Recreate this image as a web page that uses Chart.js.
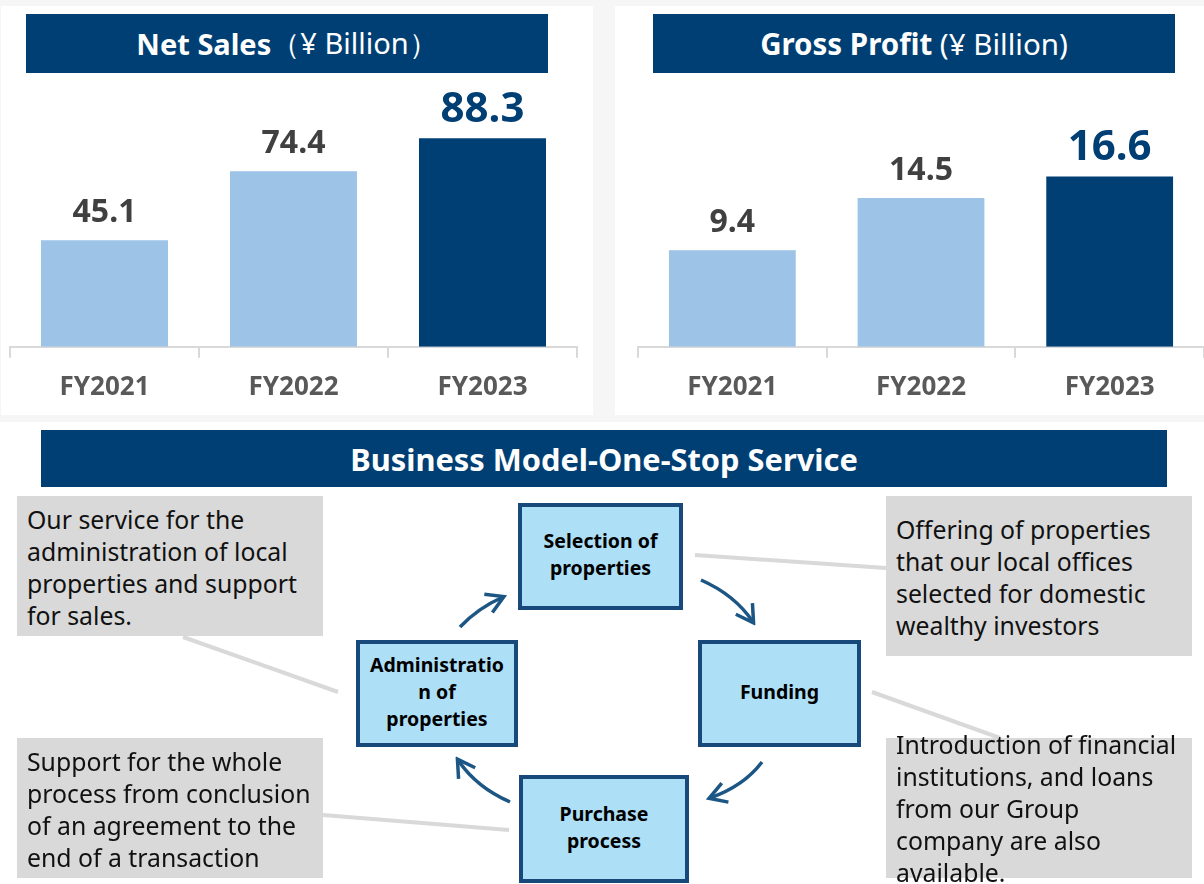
<!DOCTYPE html>
<html>
<head>
<meta charset="utf-8">
<script src="https://cdn.jsdelivr.net/npm/chart.js@4"></script>
<style>
  body { margin: 0; width: 1204px; height: 884px; overflow: hidden; background: #f6f6f6; font-family: "Noto Sans", sans-serif; position: relative; }
  .abs { position: absolute; }
  .panel { background: #ffffff; }
  .bar-title { background: #003f74; color: #ffffff; display: flex; align-items: center; justify-content: center; font-size: 29px; white-space: nowrap; }
  .bar-title b { font-weight: 700; }
  .note { background: #d9d9d9; }
  .note-text { color: #111111; font-size: 24.8px; line-height: 32px; white-space: nowrap; }
  .step { box-sizing: border-box; border: 4px solid #17497a; background: #addff7; display: flex; align-items: center; justify-content: center; text-align: center; font-weight: 700; font-size: 19.5px; line-height: 27px; color: #000000; padding-bottom: 5px; }
</style>
</head>
<body>
  <div class="abs panel" style="left:1px; top:6px; width:592px; height:409px;"></div>
  <div class="abs panel" style="left:615px; top:6px; width:589px; height:409px;"></div>
  <div class="abs panel" style="left:0; top:422px; width:1204px; height:462px;"></div>

  <div class="abs bar-title" style="left:26px; top:14px; width:522px; height:59px;"><b>Net Sales</b>（¥ Billion）</div>
  <div class="abs bar-title" style="left:653px; top:14px; width:522px; height:59px; font-size:29.5px;"><b>Gross Profit</b>&nbsp;(¥ Billion)</div>

  <div class="abs" style="left:0; top:80px; width:593px; height:350px;"><canvas id="salesChart"></canvas></div>
  <div class="abs" style="left:615px; top:80px; width:589px; height:350px;"><canvas id="profitChart"></canvas></div>

  <div class="abs bar-title" style="left:41px; top:430px; width:1126px; height:57px; font-size:30.8px;"><b>Business Model-One-Stop Service</b></div>

  <svg class="abs" style="left:0; top:0;" width="1204" height="884">
    <defs>
      <marker id="head" viewBox="0 0 24 24" refX="20" refY="12" markerWidth="24" markerHeight="24" markerUnits="userSpaceOnUse" orient="auto">
        <path d="M4,2 L21,12 L4,22" fill="none" stroke="#1c5685" stroke-width="3.5"/>
      </marker>
    </defs>
    <g stroke="#d9d9d9" stroke-width="4" fill="none">
      <line x1="183" y1="637" x2="338" y2="692"/>
      <line x1="323" y1="815" x2="509" y2="830"/>
      <line x1="695" y1="555" x2="886" y2="568"/>
      <line x1="872" y1="692" x2="1000" y2="738"/>
    </g>
    <g stroke="#1c5685" stroke-width="3.5" fill="none" marker-end="url(#head)">
      <path d="M460,627 Q478,608 503,597"/>
      <path d="M701,580 Q735,595 753,622"/>
      <path d="M762,762 Q744,786 710,798"/>
      <path d="M510,802 Q476,787 458,760"/>
    </g>
  </svg>

  <div class="abs note" style="left:17px; top:496px; width:306px; height:140px;"></div>
  <div class="abs note-text" style="left:27px; top:503px;">Our service for the<br>administration of local<br>properties and support<br>for sales.</div>

  <div class="abs note" style="left:17px; top:738px; width:306px; height:140px;"></div>
  <div class="abs note-text" style="left:27px; top:745px;">Support for the whole<br>process from conclusion<br>of an agreement to the<br>end of a transaction</div>

  <div class="abs note" style="left:886px; top:496px; width:306px; height:160px;"></div>
  <div class="abs note-text" style="left:896px; top:513px;">Offering of properties<br>that our local offices<br>selected for domestic<br>wealthy investors</div>

  <div class="abs note" style="left:886px; top:738px; width:306px; height:140px;"></div>
  <div class="abs note-text" style="left:896px; top:728px;">Introduction of financial<br>institutions, and loans<br>from our Group<br>company are also<br>available.</div>

  <div class="abs step" style="left:518px; top:503px; width:165px; height:107px;">Selection of<br>properties</div>
  <div class="abs step" style="left:356px; top:640px; width:162px; height:107px;">Administratio<br>n of<br>properties</div>
  <div class="abs step" style="left:698px; top:640px; width:163px; height:107px;">Funding</div>
  <div class="abs step" style="left:519px; top:775px; width:170px; height:108px;">Purchase<br>process</div>

<script>
const categories = ["FY2021", "FY2022", "FY2023"];
const netSales = [45.1, 74.4, 88.3];
const grossProfit = [9.4, 14.5, 16.6];

const lightBlue = "#9dc3e6";
const darkBlue = "#003f74";

Chart.defaults.font.family = "'Noto Sans', sans-serif";
Chart.defaults.animation = false;

// value above each bar, latest year larger and in dark blue
const valueLabels = {
  id: "valueLabels",
  afterDatasetsDraw(chart) {
    const { ctx } = chart;
    const values = chart.data.datasets[0].data;
    const bars = chart.getDatasetMeta(0).data;
    ctx.save();
    ctx.textAlign = "center";
    ctx.textBaseline = "alphabetic";
    bars.forEach((bar, index) => {
      const latest = index === values.length - 1;
      ctx.font = latest ? "bold 42px 'Noto Sans'" : "bold 32px 'Noto Sans'";
      ctx.fillStyle = latest ? darkBlue : "#404040";
      ctx.fillText(values[index].toFixed(1), bar.x, bar.y - (latest ? 16 : 18));
    });
    ctx.restore();
  },
};

function renderBarChart(canvasId, values, yMax, padding) {
  new Chart(document.querySelector(canvasId), {
    type: "bar",
    data: {
      labels: categories,
      datasets: [{
        data: values,
        backgroundColor: values.map((_, i) => (i === values.length - 1 ? darkBlue : lightBlue)),
        categoryPercentage: 1,
        barPercentage: 0.672,
      }],
    },
    options: {
      responsive: true,
      maintainAspectRatio: false,
      layout: { padding },
      plugins: { legend: { display: false }, tooltip: { enabled: false } },
      scales: {
        y: { display: false, min: 0, max: yMax },
        x: {
          grid: { offset: true, drawOnChartArea: false, drawTicks: true, tickLength: 11, color: "#d9d9d9", lineWidth: 2 },
          border: { display: true, color: "#d9d9d9", width: 2 },
          ticks: { color: "#595959", padding: 14, font: { size: 26, weight: "bold" } },
        },
      },
    },
    plugins: [valueLabels],
  });
}

renderBarChart("#salesChart", netSales, 113, { left: 10, right: 16, top: 0, bottom: 13 });
renderBarChart("#profitChart", grossProfit, 26, { left: 23, right: 0, top: 0, bottom: 13 });
</script>
</body>
</html>
